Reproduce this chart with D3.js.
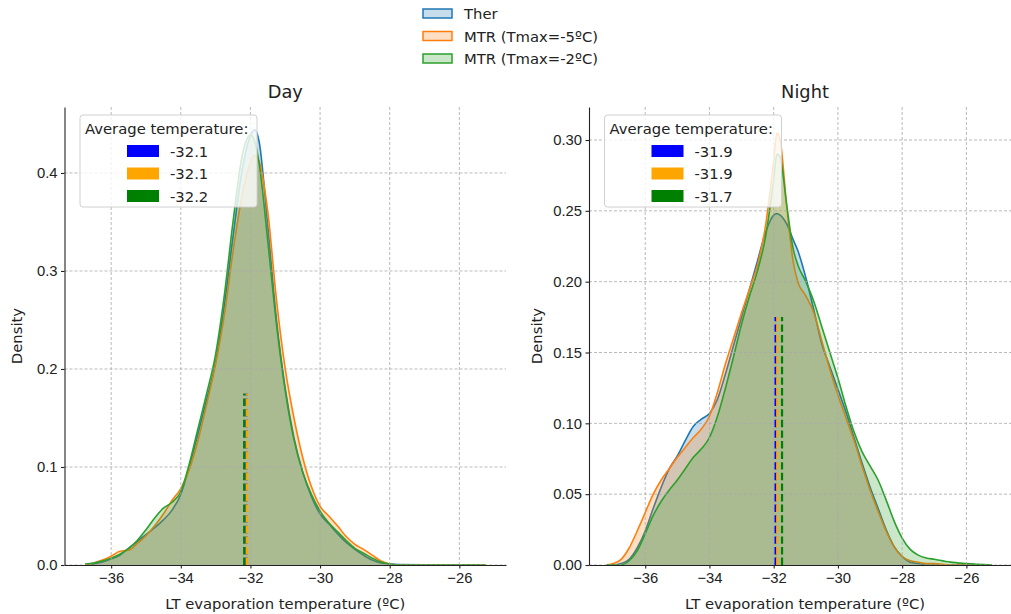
<!DOCTYPE html>
<html>
<head>
<meta charset="utf-8">
<script src="https://cdn.jsdelivr.net/npm/d3@7.9.0/dist/d3.min.js"></script>
<style>
  body { margin: 0; background: #fff; }
  svg { display: block; font-family: "DejaVu Sans", sans-serif; fill: #222; }
  .grid line { stroke: #a8a8a8; stroke-width: 0.8; stroke-dasharray: 3,2; }
  .axis path, .axis line { stroke: #222; stroke-width: 1.1; }
  .axis text { font-size: 14.8px; fill: #222; }
</style>
</head>
<body>
<svg id="chart" width="1011" height="614"></svg>
<script>
// ---- data ----
const seriesNames = ['Ther', 'MTR (Tmax=-5ºC)', 'MTR (Tmax=-2ºC)'];
const panelTitles = ['Day', 'Night'];
const xTicks = [-36, -34, -32, -30, -28, -26];
const dayYTicks = [0, 0.1, 0.2, 0.3, 0.4];
const nightYTicks = [0, 0.05, 0.10, 0.15, 0.20, 0.25, 0.30];

const dayX = [-36.75, -36.5, -36.25, -36, -35.75, -35.5, -35.25, -35, -34.75, -34.5,
  -34.25, -34, -33.75, -33.5, -33.25, -33, -32.75, -32.5, -32.25, -32,
  -31.875, -31.75, -31.5, -31.25, -31, -30.75, -30.5, -30.25, -30, -29.75,
  -29.5, -29.25, -29, -28.75, -28.5, -28.25, -28, -27.75, -27, -26, -25.25];
const dayTher = [0.000, 0.001, 0.003, 0.006, 0.010, 0.017, 0.024, 0.031, 0.038, 0.046,
  0.056, 0.072, 0.101, 0.135, 0.170, 0.207, 0.265, 0.335, 0.400, 0.438,
  0.444, 0.432, 0.345, 0.250, 0.180, 0.130, 0.095, 0.070, 0.052, 0.042,
  0.032, 0.023, 0.016, 0.010, 0.005, 0.002, 0.001, 0.0005, 0.0003, 0.0002, 0.0];
const dayMtr5 = [0.000, 0.002, 0.005, 0.009, 0.014, 0.015, 0.022, 0.030, 0.040, 0.052,
  0.066, 0.078, 0.098, 0.128, 0.165, 0.205, 0.255, 0.320, 0.375, 0.410,
  0.418, 0.412, 0.360, 0.270, 0.200, 0.150, 0.110, 0.080, 0.060, 0.050,
  0.040, 0.029, 0.021, 0.016, 0.010, 0.004, 0.001, 0.0, 0.0, 0.0, 0.0];
const dayMtr2 = [0.001, 0.002, 0.004, 0.007, 0.011, 0.017, 0.025, 0.036, 0.048, 0.058,
  0.064, 0.075, 0.104, 0.140, 0.176, 0.215, 0.275, 0.350, 0.415, 0.439,
  0.432, 0.410, 0.330, 0.245, 0.178, 0.128, 0.095, 0.072, 0.055, 0.043,
  0.034, 0.025, 0.017, 0.012, 0.007, 0.003, 0.001, 0.0, 0.0, 0.0, 0.0];

const nightX = [-37.2, -37, -36.75, -36.5, -36.25, -36, -35.75, -35.5, -35.25, -35,
  -34.75, -34.5, -34.25, -34, -33.75, -33.5, -33.25, -33, -32.75, -32.5,
  -32.25, -32, -31.9, -31.8, -31.6, -31.4, -31.25, -31, -30.75, -30.5,
  -30.25, -30, -29.75, -29.5, -29.25, -29, -28.75, -28.5, -28.25, -28,
  -27.75, -27.5, -27.25, -27, -26.5, -26, -25.2];
const nightTher = [0.000, 0.000, 0.001, 0.004, 0.012, 0.024, 0.040, 0.055, 0.068, 0.077,
  0.088, 0.098, 0.103, 0.107, 0.117, 0.135, 0.155, 0.175, 0.195, 0.215,
  0.235, 0.247, 0.248, 0.247, 0.241, 0.230, 0.222, 0.203, 0.180, 0.156,
  0.140, 0.124, 0.108, 0.090, 0.072, 0.055, 0.040, 0.025, 0.013, 0.006,
  0.002, 0.001, 0.0, 0.0, 0.0, 0.0, 0.0];
const nightMtr5 = [0.000, 0.001, 0.004, 0.012, 0.024, 0.037, 0.050, 0.060, 0.068, 0.076,
  0.083, 0.090, 0.096, 0.105, 0.122, 0.142, 0.160, 0.178, 0.195, 0.212,
  0.240, 0.285, 0.305, 0.300, 0.255, 0.215, 0.200, 0.190, 0.178, 0.158,
  0.138, 0.120, 0.104, 0.088, 0.070, 0.053, 0.038, 0.024, 0.013, 0.006,
  0.003, 0.002, 0.001, 0.001, 0.0, 0.0, 0.0];
const nightMtr2 = [0.000, 0.000, 0.000, 0.003, 0.010, 0.022, 0.035, 0.045, 0.053, 0.060,
  0.068, 0.076, 0.082, 0.090, 0.105, 0.125, 0.147, 0.170, 0.190, 0.208,
  0.232, 0.272, 0.290, 0.288, 0.255, 0.224, 0.212, 0.200, 0.186, 0.168,
  0.150, 0.132, 0.112, 0.094, 0.080, 0.070, 0.060, 0.046, 0.031, 0.019,
  0.011, 0.007, 0.005, 0.004, 0.002, 0.001, 0.0];

const dayMeans = [-32.11, -32.10, -32.18];
const nightMeans = [-31.94, -31.89, -31.74];
const meanLineTop = 0.175;

// ---- styles ----
const kdeColors = ['#1f77b4', '#ff7f0e', '#2ca02c'];
const meanColors = ['blue', 'orange', 'green'];
const fontSize = '14.8px';

const panels = [
  { title: panelTitles[0], x: dayX, ys: [dayTher, dayMtr5, dayMtr2], means: dayMeans,
    x0: 64.5, x1: 506, xDomain: [-37.34, -24.66], yMax: 0.4673,
    yTicks: dayYTicks, yFmt: d3.format('.1f'), ylabelX: 17 },
  { title: panelTitles[1], x: nightX, ys: [nightTher, nightMtr5, nightMtr2], means: nightMeans,
    x0: 589, x1: 1021, xDomain: [-37.75, -24.3], yMax: 0.3233,
    yTicks: nightYTicks, yFmt: d3.format('.2f'), ylabelX: 537 }
];
const axTop = 107, axBottom = 565;

const svg = d3.select('#chart');

panels.forEach(p => {
  const x = d3.scaleLinear().domain(p.xDomain).range([p.x0, p.x1]);
  const y = d3.scaleLinear().domain([0, p.yMax]).range([axBottom, axTop]);
  const g = svg.append('g');

  // kde fills + edges, in plotting order
  p.ys.forEach((vals, i) => {
    const pts = p.x.map((xv, k) => [xv, vals[k]]);
    const area = d3.area().x(d => x(d[0])).y0(y(0)).y1(d => y(d[1])).curve(d3.curveMonotoneX);
    const line = d3.line().x(d => x(d[0])).y(d => y(d[1])).curve(d3.curveMonotoneX);
    g.append('path').attr('d', area(pts))
      .attr('fill', kdeColors[i]).attr('fill-opacity', 0.25).attr('stroke', 'none');
    g.append('path').attr('d', line(pts))
      .attr('fill', 'none').attr('stroke', kdeColors[i]).attr('stroke-width', 1.6)
      .attr('stroke-linejoin', 'round');
  });

  // grid (above the filled areas, like matplotlib)
  const grid = g.append('g').attr('class', 'grid');
  grid.selectAll('.gx').data(xTicks).join('line').attr('class', 'gx')
    .attr('x1', d => x(d)).attr('x2', d => x(d)).attr('y1', axTop).attr('y2', axBottom);
  grid.selectAll('.gy').data(p.yTicks).join('line').attr('class', 'gy')
    .attr('x1', p.x0).attr('x2', p.x1).attr('y1', d => y(d)).attr('y2', d => y(d));

  // mean lines
  p.means.forEach((m, i) => {
    g.append('line')
      .attr('x1', x(m)).attr('x2', x(m)).attr('y1', y(0)).attr('y2', y(meanLineTop))
      .attr('stroke', meanColors[i]).attr('stroke-width', 2.2)
      .attr('stroke-dasharray', '7.4,3.2');
  });

  // axes (left + bottom spines only)
  g.append('g').attr('class', 'axis')
    .attr('transform', `translate(0,${axBottom})`)
    .call(d3.axisBottom(x).tickValues(xTicks).tickSize(3.5).tickPadding(3.5).tickSizeOuter(0));
  g.append('g').attr('class', 'axis')
    .attr('transform', `translate(${p.x0},0)`)
    .call(d3.axisLeft(y).tickValues(p.yTicks).tickFormat(p.yFmt).tickSize(3.5).tickPadding(3.5).tickSizeOuter(0));

  const cx = (p.x0 + p.x1) / 2;
  g.append('text').attr('x', cx).attr('y', 98).attr('text-anchor', 'middle')
    .style('font-size', '17.8px').text(p.title);
  g.append('text').attr('x', cx).attr('y', 609).attr('text-anchor', 'middle')
    .style('font-size', fontSize).text('LT evaporation temperature (ºC)');
  g.append('text')
    .attr('transform', `translate(${p.ylabelX + 5},${(axTop + axBottom) / 2}) rotate(-90)`)
    .attr('text-anchor', 'middle').style('font-size', fontSize).text('Density');

  // "Average temperature" legend inside the axes
  const lx = p.x0 + 15.5, ly = 115;
  const leg = g.append('g').attr('transform', `translate(${lx},${ly})`);
  leg.append('rect').attr('width', 177).attr('height', 92).attr('rx', 3)
    .attr('fill', 'white').attr('fill-opacity', 0.8).attr('stroke', '#d0d0d0').attr('stroke-width', 1);
  leg.append('text').attr('x', 5).attr('y', 18.5).style('font-size', fontSize).text('Average temperature:');
  p.means.forEach((m, i) => {
    const ry = 36 + i * 22.5;
    leg.append('rect').attr('x', 47).attr('y', ry - 6).attr('width', 32).attr('height', 12)
      .attr('fill', meanColors[i]);
    leg.append('text').attr('x', 90).attr('y', ry + 5.5).style('font-size', fontSize).text(m.toFixed(1));
  });
});

// figure legend at the top centre
const fl = svg.append('g').attr('transform', 'translate(423,0)');
seriesNames.forEach((name, i) => {
  const ry = 13.5 + i * 22.5;
  fl.append('rect').attr('x', 0).attr('y', ry - 4.5).attr('width', 29).attr('height', 9)
    .attr('fill', d3.color(kdeColors[i]).copy({ opacity: 0.25 }))
    .attr('stroke', kdeColors[i]).attr('stroke-width', 1.5);
  fl.append('text').attr('x', 41).attr('y', ry + 5.5).style('font-size', fontSize).text(name);
});
</script>
</body>
</html>
